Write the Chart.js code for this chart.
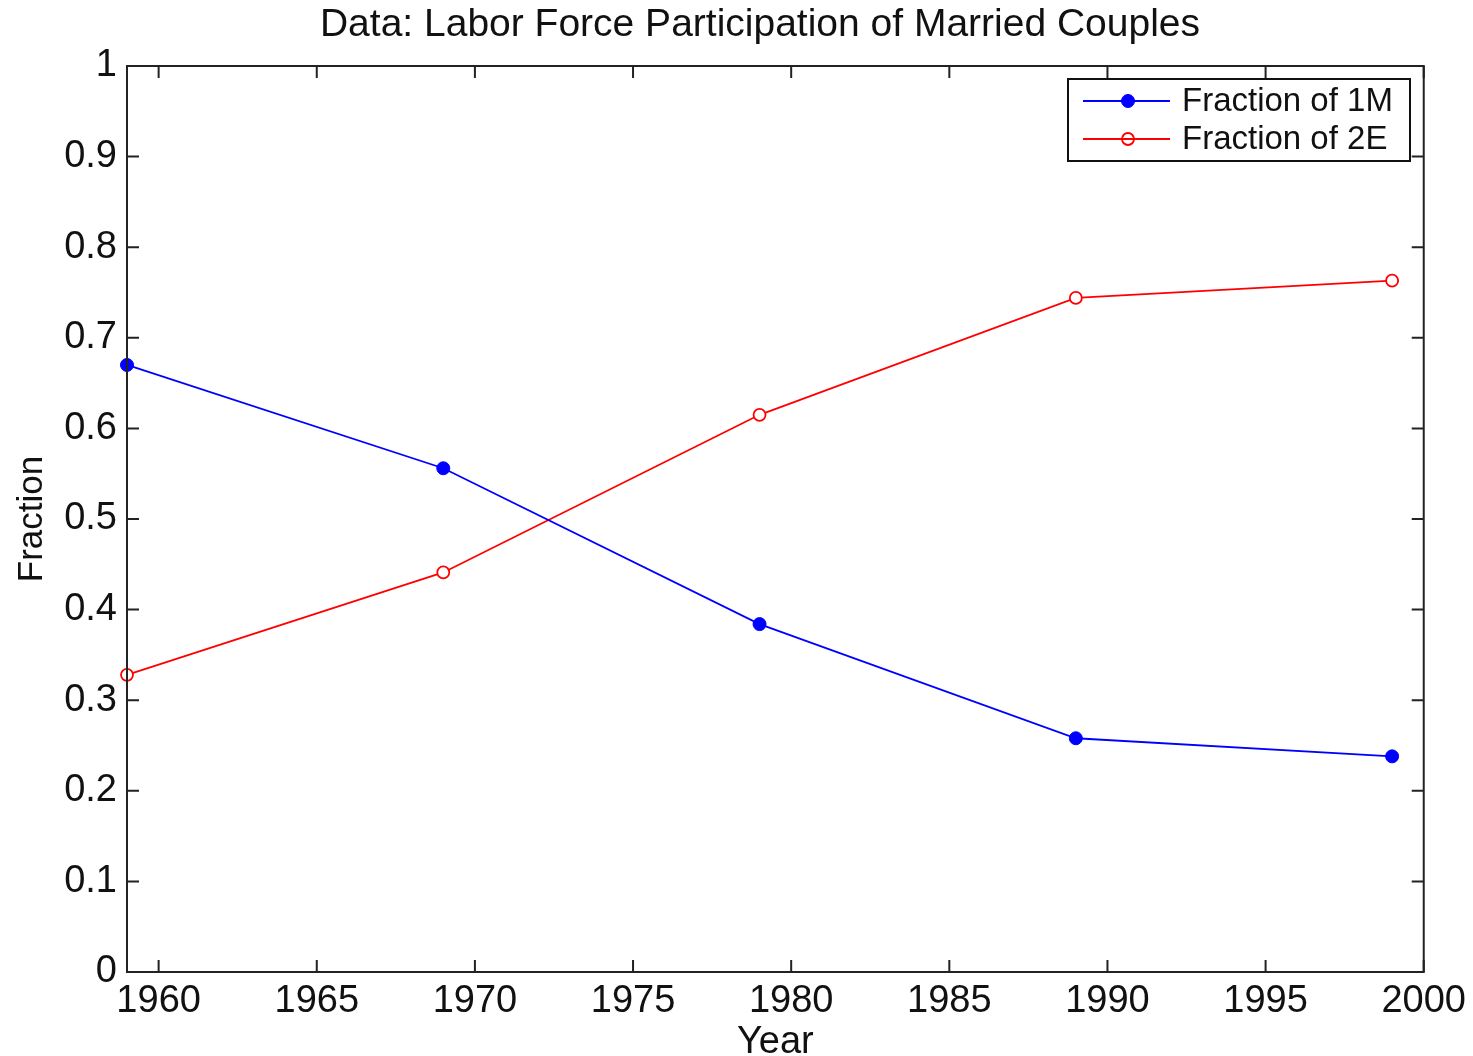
<!DOCTYPE html>
<html lang="en">
  <head>
    <meta charset="UTF-8" />
    <title>Labor Force Participation of Married Couples</title>
    <script src="https://cdn.jsdelivr.net/npm/chart.js"></script>
    <style>
      html, body {
        margin: 0;
        padding: 0;
        background: #fff;
      }
      #wrap {
        width: 1473px;
        height: 1056px;
      }
    </style>
  </head>
  <body>
    <div id="wrap"><canvas id="chart"></canvas></div>

    <script>
      // data
      const years = [1959, 1969, 1979, 1989, 1999];
      const oneEarner = [0.670, 0.556, 0.384, 0.258, 0.238];
      const twoEarners = [0.328, 0.441, 0.615, 0.744, 0.763];
      const xTicks = [1960, 1965, 1970, 1975, 1980, 1985, 1990, 1995, 2000];
      const yTicks = [0, 0.1, 0.2, 0.3, 0.4, 0.5, 0.6, 0.7, 0.8, 0.9, 1];
      const seriesNames = ["Fraction of 1M", "Fraction of 2E"];
      const chartTitle = "Data: Labor Force Participation of Married Couples";

      const FONT = "'Liberation Sans', Arial, sans-serif";
      const INK = "#111";

      const toPoints = (xs, ys) => xs.map((x, i) => ({ x: x, y: ys[i] }));

      // title, box, inward ticks on all four sides, and the legend
      const matlabFrame = {
        id: "matlabFrame",
        afterDraw(chart) {
          const ctx = chart.ctx;
          const a = chart.chartArea;
          const xs = chart.scales.x;
          const ys = chart.scales.y;
          const len = 12;
          ctx.save();

          ctx.fillStyle = INK;
          ctx.font = "39px " + FONT;
          ctx.textAlign = "center";
          ctx.textBaseline = "middle";
          ctx.fillText(chartTitle, 760, 25);

          ctx.strokeStyle = "#222";
          ctx.lineWidth = 2;
          ctx.strokeRect(a.left, a.top, a.right - a.left, a.bottom - a.top);
          ctx.beginPath();
          xTicks.forEach((t) => {
            const px = xs.getPixelForValue(t);
            ctx.moveTo(px, a.bottom);
            ctx.lineTo(px, a.bottom - len);
            ctx.moveTo(px, a.top);
            ctx.lineTo(px, a.top + len);
          });
          yTicks.forEach((t) => {
            const py = ys.getPixelForValue(t);
            ctx.moveTo(a.left, py);
            ctx.lineTo(a.left + len, py);
            ctx.moveTo(a.right, py);
            ctx.lineTo(a.right - len, py);
          });
          ctx.stroke();

          // legend
          const lx = 1068, ly = 79, lw = 342, lh = 82;
          ctx.fillStyle = "#fff";
          ctx.fillRect(lx, ly, lw, lh);
          ctx.strokeStyle = "#111";
          ctx.lineWidth = 2;
          ctx.strokeRect(lx, ly, lw, lh);
          const rows = [ly + 22, ly + 60];
          chart.data.datasets.forEach((ds, i) => {
            const y = rows[i];
            ctx.strokeStyle = ds.borderColor;
            ctx.lineWidth = ds.borderWidth;
            ctx.beginPath();
            ctx.moveTo(lx + 15, y);
            ctx.lineTo(lx + 102, y);
            ctx.stroke();
            ctx.beginPath();
            ctx.arc(lx + 60, y, ds.pointRadius, 0, Math.PI * 2);
            if (ds.pointBackgroundColor !== "#fff") {
              ctx.fillStyle = ds.pointBackgroundColor;
              ctx.fill();
            }
            ctx.strokeStyle = ds.pointBorderColor;
            ctx.lineWidth = ds.pointBorderWidth;
            ctx.stroke();
            ctx.fillStyle = INK;
            ctx.font = "33px " + FONT;
            ctx.textBaseline = "middle";
            ctx.textAlign = "left";
            ctx.fillText(ds.label, lx + 114, y + 1);
          });
          ctx.restore();
        },
      };

      new Chart(document.getElementById("chart"), {
        type: "line",
        data: {
          datasets: [
            {
              label: seriesNames[0],
              data: toPoints(years, oneEarner),
              borderColor: "#0000ff",
              borderWidth: 1.8,
              pointRadius: 6.5,
              pointBackgroundColor: "#0000ff",
              pointBorderColor: "#0000ff",
              pointBorderWidth: 1,
              tension: 0,
              clip: false,
            },
            {
              label: seriesNames[1],
              data: toPoints(years, twoEarners),
              borderColor: "#ff0000",
              borderWidth: 1.8,
              pointRadius: 6,
              pointBackgroundColor: "#fff",
              pointBorderColor: "#ff0000",
              pointBorderWidth: 1.8,
              tension: 0,
              clip: false,
            },
          ],
        },
        options: {
          responsive: true,
          maintainAspectRatio: false,
          animation: false,
          layout: { padding: { left: 0, right: 41, top: 66, bottom: 0 } },
          plugins: {
            legend: { display: false },
            tooltip: { enabled: false },
            title: { display: false },
          },
          scales: {
            x: {
              type: "linear",
              min: 1959,
              max: 2000,
              afterBuildTicks: (s) => {
                s.ticks = xTicks.map((v) => ({ value: v }));
              },
              afterFit: (s) => {
                s.height = 84;
              },
              grid: { display: false, drawTicks: false, tickLength: 0 },
              border: { display: false },
              ticks: {
                color: INK,
                padding: 7,
                maxRotation: 0,
                font: { family: FONT, size: 38 },
                callback: (v) => String(v),
              },
              title: {
                display: true,
                text: "Year",
                color: INK,
                font: { family: FONT, size: 38 },
                padding: { top: 0, bottom: -9 },
              },
            },
            y: {
              type: "linear",
              min: 0,
              max: 1,
              afterBuildTicks: (s) => {
                s.ticks = yTicks.map((v) => ({ value: v }));
              },
              afterFit: (s) => {
                s.width = 127;
              },
              grid: { display: false, drawTicks: false, tickLength: 0 },
              border: { display: false },
              ticks: {
                color: INK,
                padding: 10,
                font: { family: FONT, size: 38 },
                callback: (v) => String(+v.toFixed(1)),
              },
              title: {
                display: true,
                text: "Fraction",
                color: INK,
                font: { family: FONT, size: 35 },
                padding: { top: 11, bottom: 0 },
              },
            },
          },
        },
        plugins: [matlabFrame],
      });
    </script>
  </body>
</html>
